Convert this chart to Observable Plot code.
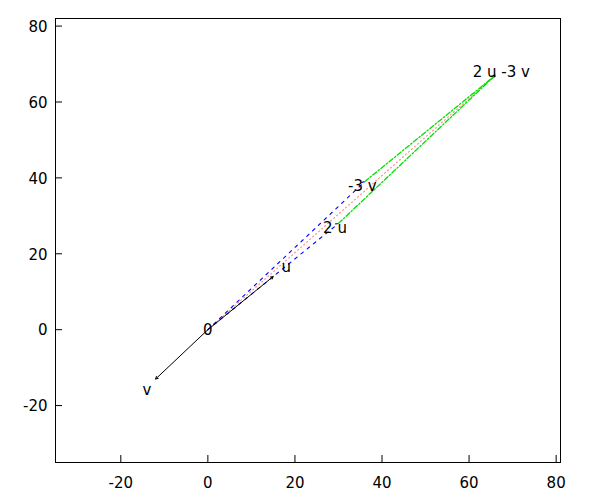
<!DOCTYPE html>
<html>
<head>
<meta charset="utf-8">
<script src="https://cdn.jsdelivr.net/npm/d3@7"></script>
<script src="https://cdn.jsdelivr.net/npm/@observablehq/plot@0.6"></script>
<style>
  html, body { margin: 0; padding: 0; background: #fff; }
  #chart svg { display: block; }
</style>
</head>
<body>
<div id="chart"></div>
<script>
// Vector components
const u = [15, 14];
const v = [-12, -13];

// Segments (start -> end) of the construction
const solidX1 = [0, 0], solidY1 = [0, 0], solidX2 = [15, -12], solidY2 = [14, -13];          // u, v
const dashX1 = [0, 0], dashY1 = [0, 0], dashX2 = [30, 36], dashY2 = [28, 39];                // 2u, -3v
const dotX1 = [0], dotY1 = [0], dotX2 = [66], dotY2 = [67];                                  // 2u-3v diagonal
const ddX1 = [30, 36], ddY1 = [28, 39], ddX2 = [66, 66], ddY2 = [67, 67];                    // sides to 2u-3v

// Labels
const labelText = ["0", "u", "v", "2 u", "-3 v", "2 u -3 v"];
const labelX = [0, 18, -14, 29.2, 35.5, 67.4];
const labelY = [0, 16.6, -15.8, 27, 38, 68];

// Axis ticks
const xTicks = [-20, 0, 20, 40, 60, 80];
const yTicks = [-20, 0, 20, 40, 60, 80];

const seg = (x1, y1, x2, y2) => x1.map((_, i) => ({x1: x1[i], y1: y1[i], x2: x2[i], y2: y2[i]}));
const labels = labelText.map((t, i) => ({t, x: labelX[i], y: labelY[i]}));

const W = 600, H = 500, ML = 55, MR = 40, MT = 18, MB = 38;
const innerW = W - ML - MR, innerH = H - MT - MB;

const chart = Plot.plot({
  width: W,
  height: H,
  marginLeft: ML,
  marginRight: MR,
  marginTop: MT,
  marginBottom: MB,
  style: {fontFamily: "DejaVu Sans", fontSize: "15px", color: "black", background: "white"},
  x: {domain: [-35, 81]},
  y: {domain: [-35, 82]},
  marks: [
    Plot.frame({stroke: "black", strokeWidth: 1}),
    Plot.tickX(xTicks, {x: d => d, stroke: "black", insetTop: innerH - 7}),
    Plot.tickY(yTicks, {y: d => d, stroke: "black", insetRight: innerW - 7}),
    Plot.axisX({ticks: xTicks, tickSize: 0, tickPadding: 15, fontSize: 15, label: null, tickFormat: d => String(d)}),
    Plot.axisY({ticks: yTicks, tickSize: 0, tickPadding: 8, fontSize: 15, label: null, tickFormat: d => String(d), dy: 1}),
    Plot.arrow(seg(dotX1, dotY1, dotX2, dotY2), {x1: "x1", y1: "y1", x2: "x2", y2: "y2",
      stroke: "#ff9090", strokeWidth: 1.2, strokeDasharray: "1,3", headLength: 0}),
    Plot.arrow(seg(dashX1, dashY1, dashX2, dashY2), {x1: "x1", y1: "y1", x2: "x2", y2: "y2",
      stroke: "#0000ff", strokeWidth: 1.1, strokeDasharray: "3,5", headLength: 4}),
    Plot.arrow(seg(ddX1, ddY1, ddX2, ddY2), {x1: "x1", y1: "y1", x2: "x2", y2: "y2",
      stroke: "#00e000", strokeWidth: 1.3, strokeDasharray: "5,2,1.5,2", headLength: 4}),
    Plot.arrow(seg(solidX1, solidY1, solidX2, solidY2), {x1: "x1", y1: "y1", x2: "x2", y2: "y2",
      stroke: "black", strokeWidth: 1, headLength: 4}),
    Plot.text(labels, {x: "x", y: "y", text: "t", fill: "black", fontSize: 15, textAnchor: "middle", dy: 1})
  ]
});
document.getElementById("chart").appendChild(chart);
</script>
</body>
</html>
